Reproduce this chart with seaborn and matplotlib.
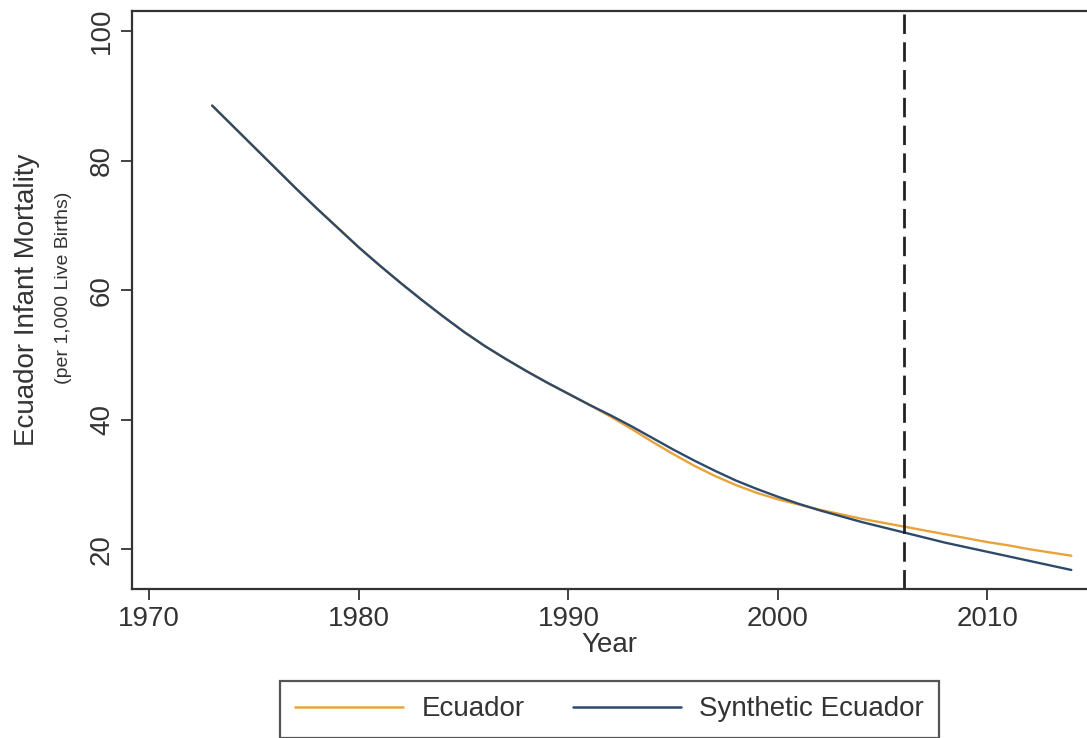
import numpy as np
import pandas as pd
import matplotlib
matplotlib.use("Agg")
import matplotlib.pyplot as plt
import seaborn as sns
from matplotlib.lines import Line2D

years = list(range(1973, 2015))
ecuador = [88.5, 85.3, 82.1, 78.9, 75.7, 72.6, 69.6, 66.6, 63.8, 61.1,
           58.5, 56.0, 53.6, 51.4, 49.4, 47.5, 45.7, 44.0, 42.3, 40.5,
           38.6, 36.6, 34.7, 32.9, 31.3, 29.9, 28.7, 27.7, 26.9, 26.1,
           25.4, 24.7, 24.1, 23.5, 22.9, 22.3, 21.7, 21.1, 20.6, 20.0,
           19.5, 19.0]
synthetic = [88.5, 85.3, 82.1, 78.9, 75.7, 72.6, 69.6, 66.6, 63.8, 61.1,
             58.5, 56.0, 53.6, 51.4, 49.4, 47.5, 45.7, 44.0, 42.3, 40.7,
             39.0, 37.2, 35.4, 33.7, 32.1, 30.6, 29.3, 28.1, 27.0, 26.0,
             25.1, 24.2, 23.4, 22.6, 21.8, 21.0, 20.3, 19.6, 18.9, 18.2,
             17.5, 16.8]
series_names = ["Ecuador", "Synthetic Ecuador"]
treatment_year = 2006
x_ticks = [1970, 1980, 1990, 2000, 2010]
y_ticks = [20, 40, 60, 80, 100]

df = pd.DataFrame({
    "Year": years * 2,
    "value": ecuador + synthetic,
    "series": [series_names[0]] * len(years) + [series_names[1]] * len(years),
})

sns.set_theme(style="white")
plt.rcParams["font.family"] = ["Liberation Sans", "DejaVu Sans"]
TXT = "#333333"

fig = plt.figure(figsize=(10.87, 7.38), dpi=100)
ax = fig.add_axes([131.7 / 1087, 1 - 589 / 738, 1 - 131.7 / 1087, (589 - 11) / 738])

palette = {series_names[0]: "#E8A33A", series_names[1]: "#2E4A6B"}
sns.lineplot(data=df, x="Year", y="value", hue="series", palette=palette,
             linewidth=1.7, ax=ax, legend=False)
ax.axvline(treatment_year, color="#222222", linewidth=2.0, dashes=(7, 3))

ax.set_xlim(1969.16, 2014.75)
ax.set_ylim(13.86, 103.1)
ax.set_xticks(x_ticks)
ax.set_yticks(y_ticks)
ax.set_xticklabels([str(t) for t in x_ticks], fontsize=20, color=TXT)
ax.set_yticklabels([str(t) for t in y_ticks], fontsize=20, color=TXT,
                   rotation=90, va="center")
ax.tick_params(axis="both", direction="out", length=8, width=1.3,
               color="#333333", pad=4, bottom=True, left=True)
for s in ["left", "bottom", "top"]:
    ax.spines[s].set_color("#333333")
    ax.spines[s].set_linewidth(1.6)
ax.spines["right"].set_visible(False)

ax.set_xlabel("Year", fontsize=20, color=TXT, labelpad=0)
ax.set_ylabel("")

fig.text(27 / 1087, 1 - 300 / 738, "Ecuador Infant Mortality", rotation=90,
         fontsize=20, color=TXT, ha="center", va="center")
fig.text(63 / 1087, 1 - 288 / 738, "(per 1,000 Live Births)", rotation=90,
         fontsize=14, color=TXT, ha="center", va="center")

handles = [Line2D([], [], color=palette[n], linewidth=1.8) for n in series_names]
leg = fig.legend(handles, series_names, loc="center",
                 bbox_to_anchor=(609.5 / 1087, 1 - 709.5 / 738),
                 ncol=2, fontsize=20, frameon=True, fancybox=False,
                 handlelength=3.9, handletextpad=0.65, columnspacing=1.75,
                 borderpad=0.55, borderaxespad=0)
for t in leg.get_texts():
    t.set_color(TXT)
frame = leg.get_frame()
frame.set_edgecolor("#555555")
frame.set_linewidth(1.6)
frame.set_facecolor("white")
frame.set_alpha(1)

fig.savefig("out.png", dpi=100)
